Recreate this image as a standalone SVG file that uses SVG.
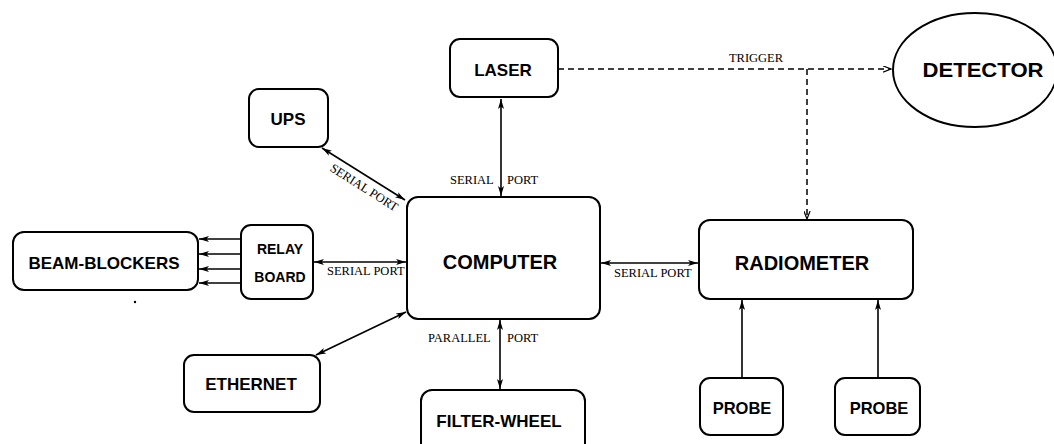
<svg xmlns="http://www.w3.org/2000/svg" width="1054" height="444" viewBox="0 0 1054 444">
<style>
.box{fill:#fff;stroke:#000;stroke-width:2}
.lbl{font-family:"Liberation Sans",Arial,sans-serif;font-weight:bold;fill:#000;text-anchor:middle}
.port{font-family:"Liberation Serif","Times New Roman",serif;font-size:12.5px;fill:#000}
.ln{stroke:#000;stroke-width:1.6;fill:none}
.dash{stroke:#000;stroke-width:1.5;fill:none;stroke-dasharray:6 4}
</style>
<defs>
<marker id="af" viewBox="0 0 10 6" refX="10" refY="3" markerWidth="10" markerHeight="6" markerUnits="userSpaceOnUse" orient="auto-start-reverse">
<path d="M0,0 L10,3 L0,6 L2.5,3 Z" fill="#000"/>
</marker>
<marker id="ao" viewBox="0 0 10 8" refX="9" refY="4" markerWidth="9" markerHeight="7" markerUnits="userSpaceOnUse" orient="auto">
<path d="M0,0.5 L9,4 L0,7.5" fill="none" stroke="#000" stroke-width="1.4"/>
</marker>
</defs>
<rect width="1054" height="444" fill="#fff"/>

<g id="connectors">
<line class="ln" x1="501" y1="99" x2="501" y2="196" marker-start="url(#af)" marker-end="url(#af)"/>
<line class="ln" x1="322" y1="148" x2="405" y2="200" marker-start="url(#af)" marker-end="url(#af)"/>
<line class="ln" x1="314" y1="262" x2="406" y2="262" marker-start="url(#af)" marker-end="url(#af)"/>
<line class="ln" x1="316" y1="355" x2="406" y2="312" marker-start="url(#af)" marker-end="url(#af)"/>
<line class="ln" x1="500" y1="320" x2="500" y2="389" marker-start="url(#af)" marker-end="url(#af)"/>
<line class="ln" x1="601" y1="263" x2="698" y2="263" marker-start="url(#af)" marker-end="url(#af)"/>
<line class="ln" x1="241" y1="239" x2="199" y2="239" marker-end="url(#af)"/>
<line class="ln" x1="241" y1="254" x2="199" y2="254" marker-end="url(#af)"/>
<line class="ln" x1="241" y1="269" x2="199" y2="269" marker-end="url(#af)"/>
<line class="ln" x1="241" y1="283" x2="199" y2="283" marker-end="url(#af)"/>
<line class="ln" x1="742" y1="378" x2="742" y2="300" marker-end="url(#af)"/>
<line class="ln" x1="878" y1="378" x2="878" y2="300" marker-end="url(#af)"/>
<line class="dash" x1="558" y1="69" x2="891" y2="69" marker-end="url(#ao)"/>
<line class="dash" x1="807" y1="69" x2="807" y2="219" marker-end="url(#ao)"/>
<text class="port" x="450" y="184">SERIAL</text>
<text class="port" x="507" y="184">PORT</text>
<text class="port" x="756" y="62" text-anchor="middle" font-size="11">TRIGGER</text>
<text class="port" x="0" y="0" text-anchor="middle" transform="translate(362,191) rotate(32.4)">SERIAL PORT</text>
<text class="port" x="327" y="275">SERIAL PORT</text>
<text class="port" x="614" y="277">SERIAL PORT</text>
<text class="port" x="428" y="342">PARALLEL</text>
<text class="port" x="507" y="342">PORT</text>
</g>

<g id="ups"><rect class="box" x="249" y="89" width="79" height="58" rx="10"/><text class="lbl" x="288" y="125" font-size="17">UPS</text></g>
<g id="laser"><rect class="box" x="450" y="39" width="108" height="58" rx="10"/><text class="lbl" x="503" y="76" font-size="17">LASER</text></g>
<g id="detector"><ellipse class="box" cx="975" cy="70" rx="82" ry="57"/><text class="lbl" x="983" y="77" font-size="20" textLength="121" lengthAdjust="spacingAndGlyphs">DETECTOR</text></g>
<g id="computer"><rect class="box" x="407" y="197" width="193" height="122" rx="11"/><text class="lbl" x="500" y="269" font-size="20">COMPUTER</text></g>
<g id="radiometer"><rect class="box" x="699" y="220" width="214" height="79" rx="11"/><text class="lbl" x="802" y="270" font-size="20">RADIOMETER</text></g>
<g id="beam-blockers"><rect class="box" x="13" y="232" width="185" height="58" rx="11"/><text class="lbl" x="104" y="269" font-size="17">BEAM-BLOCKERS</text></g>
<g id="relay-board"><rect class="box" x="241" y="225" width="72" height="74" rx="10"/><text class="lbl" x="280" y="254" font-size="14">RELAY</text><text class="lbl" x="280" y="282" font-size="14">BOARD</text></g>
<g id="ethernet"><rect class="box" x="184" y="355" width="136" height="57" rx="10"/><text class="lbl" x="251" y="390" font-size="17">ETHERNET</text></g>
<g id="filter-wheel"><rect class="box" x="421" y="390" width="164" height="64" rx="11"/><text class="lbl" x="499" y="427" font-size="17">FILTER-WHEEL</text></g>
<g id="probe1"><rect class="box" x="700" y="378" width="83" height="57" rx="10"/><text class="lbl" x="742" y="414" font-size="16.5">PROBE</text></g>
<g id="probe2"><rect class="box" x="835" y="378" width="85" height="57" rx="10"/><text class="lbl" x="879" y="414" font-size="16.5">PROBE</text></g>
<circle cx="135" cy="302" r="1.2" fill="#000"/>
</svg>
